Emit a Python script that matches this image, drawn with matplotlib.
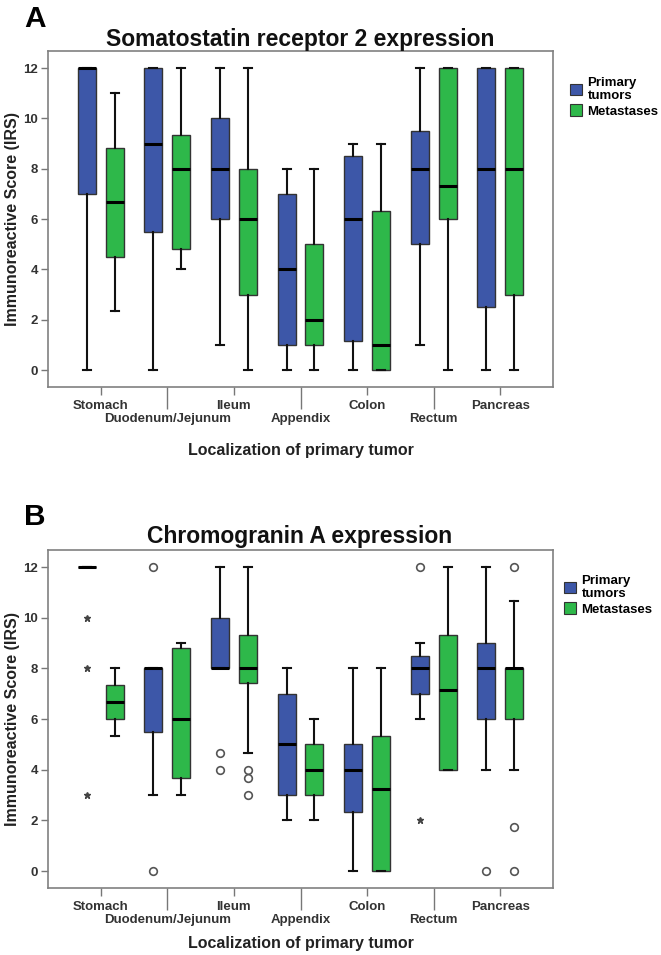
import matplotlib
matplotlib.use("Agg")
import matplotlib.pyplot as plt
from matplotlib.patches import Patch

plt.rcParams['font.family'] = ['Liberation Sans', 'DejaVu Sans']
plt.rcParams['font.weight'] = 'bold'

cats = ["Stomach", "Duodenum/Jejunum", "Ileum", "Appendix", "Colon", "Rectum", "Pancreas"]
groups = ["Primary\ntumors", "Metastases"]

# Panel A: Somatostatin receptor 2
A_prim_whislo = [0, 0, 1, 0, 0, 1, 0]
A_prim_q1 = [7, 5.5, 6, 1, 1.17, 5, 2.5]
A_prim_med = [12, 9, 8, 4, 6, 8, 8]
A_prim_q3 = [12, 12, 10, 7, 8.5, 9.5, 12]
A_prim_whishi = [12, 12, 12, 8, 9, 12, 12]

A_met_whislo = [2.33, 4, 0, 0, 0, 0, 0]
A_met_q1 = [4.5, 4.8, 3, 1, 0, 6, 3]
A_met_med = [6.67, 8, 6, 2, 1, 7.33, 8]
A_met_q3 = [8.83, 9.33, 8, 5, 6.33, 12, 12]
A_met_whishi = [11, 12, 12, 8, 9, 12, 12]

# Panel B: Chromogranin A
B_prim_whislo = [12, 3, 8, 2, 0, 6, 4]
B_prim_q1 = [12, 5.5, 8, 3, 2.33, 7, 6]
B_prim_med = [12, 8, 8, 5, 4, 8, 8]
B_prim_q3 = [12, 8, 10, 7, 5, 8.5, 9]
B_prim_whishi = [12, 8, 12, 8, 8, 9, 12]

B_met_whislo = [5.33, 3, 4.67, 2, 0, 4, 4]
B_met_q1 = [6, 3.67, 7.44, 3, 0, 4, 6]
B_met_med = [6.67, 6, 8, 4, 3.25, 7.17, 8]
B_met_q3 = [7.33, 8.8, 9.33, 5, 5.33, 9.33, 8]
B_met_whishi = [8, 9, 12, 6, 8, 12, 10.67]

# Outliers in panel B (category index, value)
B_prim_circle_cat = [1, 1, 2, 2, 5, 6]
B_prim_circle_val = [12, 0, 4.67, 4, 12, 0]
B_prim_star_cat = [0, 0, 0, 5]
B_prim_star_val = [10, 8, 3, 2]
B_met_circle_cat = [2, 2, 2, 6, 6, 6]
B_met_circle_val = [4, 3.67, 3, 12, 1.75, 0]

BLUE = "#3d57a8"
GREEN = "#2eb84a"
W, H = 661, 955

fig = plt.figure(figsize=(W / 100, H / 100), dpi=100)


def fx(px):
    return px / W


def fy(py):
    return 1 - py / H


def stats(wl, q1, med, q3, wh):
    return [dict(whislo=a, q1=b, med=c, q3=d, whishi=e, fliers=[])
            for a, b, c, d, e in zip(wl, q1, med, q3, wh)]


def draw_panel(ax, prim, met, title_base, xl_base, letter, letter_base, title, leg_xy):
    off, bw = 0.21, 0.27
    for st, sign, col in ((prim, -1, BLUE), (met, 1, GREEN)):
        pos = [i + sign * off for i in range(len(cats))]
        ax.bxp(st, positions=pos, widths=bw, patch_artist=True, showfliers=False,
               boxprops=dict(facecolor=col, edgecolor="#333333", linewidth=1.0),
               medianprops=dict(color="black", linewidth=2.2),
               whiskerprops=dict(color="#111111", linewidth=1.5),
               capprops=dict(color="#111111", linewidth=1.5),
               capwidths=0.12, manage_ticks=False)
    ax.set_xlim(-0.79, 6.79)
    ax.set_ylim(-0.67, 12.68)
    ax.set_yticks(range(0, 13, 2))
    ax.tick_params(axis='y', length=5, width=1, color="#777777", pad=2,
                   labelsize=9.5, labelcolor="#333333")
    ax.set_xticks([0, 2, 4, 6], [cats[i] for i in (0, 2, 4, 6)])
    ax.set_xticks([1, 3, 5], [cats[i] for i in (1, 3, 5)], minor=True)
    ax.tick_params(axis='x', which='major', length=5.8, width=1, color="#777777",
                   pad=3.6, labelsize=9.5, labelcolor="#333333")
    ax.tick_params(axis='x', which='minor', length=15.8, width=1, color="#777777",
                   pad=3.0, labelsize=9.5, labelcolor="#333333")
    for sp in ax.spines.values():
        sp.set_color("#808080")
        sp.set_linewidth(1.2)
    ax.set_ylabel("Immunoreactive Score (IRS)", fontsize=11.5, fontweight='bold',
                  color="#222222")
    ax.yaxis.set_label_coords(-0.056, 0.5)
    fig.text(fx(300), fy(title_base), title, ha='center', va='baseline',
             fontsize=16.5, fontweight='bold', color="#111111")
    fig.text(fx(301), fy(xl_base), "Localization of primary tumor", ha='center',
             va='baseline', fontsize=11.5, fontweight='bold', color="#222222")
    fig.text(fx(24), fy(letter_base), letter, ha='left', va='baseline',
             fontsize=21.5, fontweight='bold', color="black")
    handles = [Patch(facecolor=BLUE, edgecolor="#333333", linewidth=0.8),
               Patch(facecolor=GREEN, edgecolor="#333333", linewidth=0.8)]
    fig.legend(handles, groups, loc='upper left',
               bbox_to_anchor=(fx(leg_xy[0]), fy(leg_xy[1])), frameon=False,
               borderpad=0, handlelength=0.95, handleheight=0.95, handletextpad=0.4,
               labelspacing=0.15,
               prop=dict(family=['Liberation Sans'], weight='bold', size=9.5))


axA = fig.add_axes([fx(48), fy(387), fx(553) - fx(48), fy(51) - fy(387)])
draw_panel(axA,
           stats(A_prim_whislo, A_prim_q1, A_prim_med, A_prim_q3, A_prim_whishi),
           stats(A_met_whislo, A_met_q1, A_met_med, A_met_q3, A_met_whishi),
           46, 455, "A", 27, "Somatostatin receptor 2 expression", (563, 70))

axB = fig.add_axes([fx(48), fy(888), fx(553) - fx(48), fy(550) - fy(888)])
draw_panel(axB,
           stats(B_prim_whislo, B_prim_q1, B_prim_med, B_prim_q3, B_prim_whishi),
           stats(B_met_whislo, B_met_q1, B_met_med, B_met_q3, B_met_whishi),
           543, 948, "B", 525, "Chromogranin A expression", (557, 568))

off = 0.21
axB.plot([c - off for c in B_prim_circle_cat], B_prim_circle_val, 'o', ms=5.5,
         mfc='white', mec='#555555', mew=1.2, ls='none')
axB.plot([c + off for c in B_met_circle_cat], B_met_circle_val, 'o', ms=5.5,
         mfc='white', mec='#555555', mew=1.2, ls='none')
axB.plot([c - off for c in B_prim_star_cat], B_prim_star_val, '*', ms=5,
         color='#444444', ls='none')

fig.savefig("out.png", dpi=100)
